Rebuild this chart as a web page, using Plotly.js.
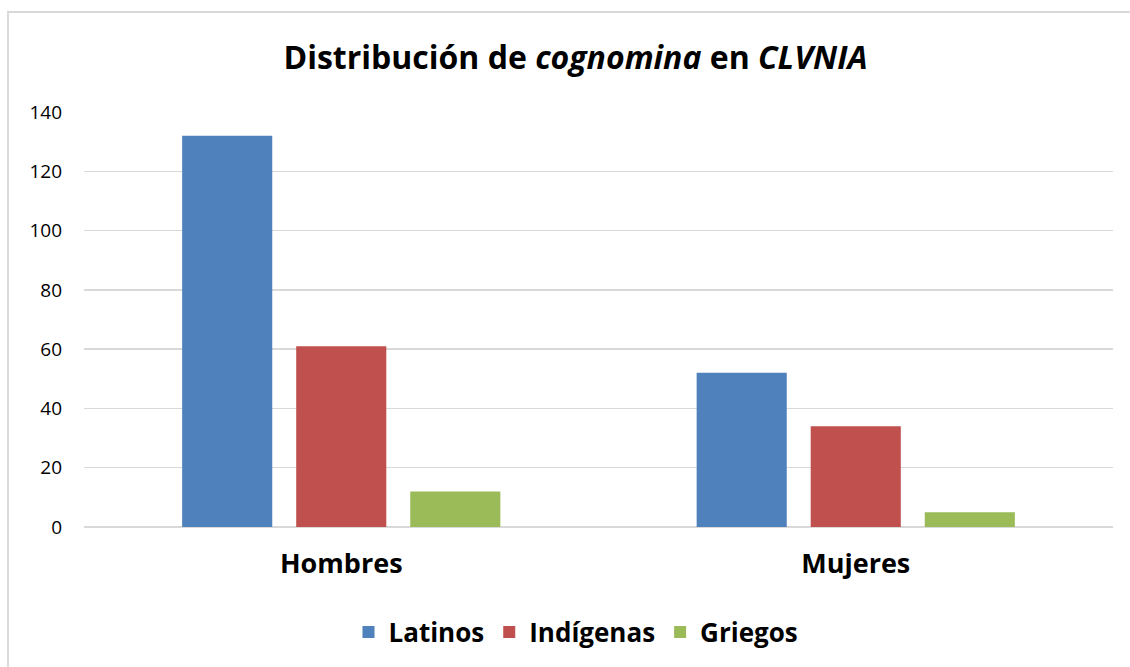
<!DOCTYPE html>
<html>
<head>
<meta charset="utf-8">
<script src="https://cdn.plot.ly/plotly-3.0.1.min.js"></script>
<style>
html,body{margin:0;padding:0;background:#fff;}
#chart{width:1130px;height:667px;}
</style>
</head>
<body>
<div id="chart"></div>
<script>
const categories = ["Hombres", "Mujeres"];
const latinos = [132, 52];
const indigenas = [61, 34];
const griegos = [12, 5];
const seriesNames = ["Latinos", "Indígenas", "Griegos"];
const yTicks = [0, 20, 40, 60, 80, 100, 120, 140];

const colors = ["#4f81bd", "#c0504d", "#9bbb59"];
const FONT = "'Open Sans', Lato, sans-serif";

const traces = [latinos, indigenas, griegos].map((vals, i) => ({
  type: "bar",
  name: seriesNames[i],
  x: categories,
  y: vals,
  marker: {color: colors[i], line: {width: 0}},
  hoverinfo: "x+y+name"
}));

const L = 84, R = 17, T = 112, B = 140, W = 1130, H = 667;
const pw = W - L - R, ph = H - T - B;

const layout = {
  width: W, height: H,
  margin: {l: L, r: R, t: T, b: B, pad: 0, autoexpand: false},
  paper_bgcolor: "#fff",
  plot_bgcolor: "#fff",
  barmode: "group",
  bargap: 0.335,
  bargroupgap: 0.21,
  title: {
    text: "<b>Distribución de <i>cognomina</i> en <i>CLVNIA</i></b>",
    font: {family: FONT, size: 32, color: "#000"},
    x: 575.5 / W, xanchor: "center", xref: "container",
    y: 1 - 58 / H, yanchor: "middle", yref: "container"
  },
  xaxis: {
    type: "category",
    showgrid: false,
    zeroline: false,
    showline: false,
    ticks: "",
    tickfont: {family: FONT, size: 27, color: "#000", weight: "bold"},
    ticklabelstandoff: 18
  },
  yaxis: {
    range: [0, 140],
    tickvals: yTicks,
    ticktext: yTicks.map(String),
    showgrid: true,
    gridcolor: "#d9d9d9",
    gridwidth: 1.5,
    zeroline: true,
    zerolinecolor: "#d9d9d9",
    zerolinewidth: 1.5,
    showline: false,
    ticks: "",
    tickfont: {family: FONT, size: 19, color: "#000"},
    ticklabelstandoff: 21,
    fixedrange: true
  },
  showlegend: true,
  legend: {
    orientation: "h",
    x: (576 - L) / pw, xanchor: "center",
    y: -(632 - 527) / ph, yanchor: "middle",
    font: {family: FONT, size: 26, color: "#000", weight: "bold"},
    itemwidth: 30,
    traceorder: "normal"
  },
  shapes: [{
    type: "rect", xref: "paper", yref: "paper",
    x0: (8 - L) / pw, x1: (W + 20 - L) / pw,
    y0: -(H + 20 - (T + ph)) / ph, y1: 1 + (T - 12) / ph,
    line: {color: "#d9d9d9", width: 2},
    fillcolor: "rgba(0,0,0,0)",
    layer: "below"
  }]
};

Plotly.newPlot("chart", traces, layout, {displayModeBar: false, staticPlot: true});
</script>
</body>
</html>
